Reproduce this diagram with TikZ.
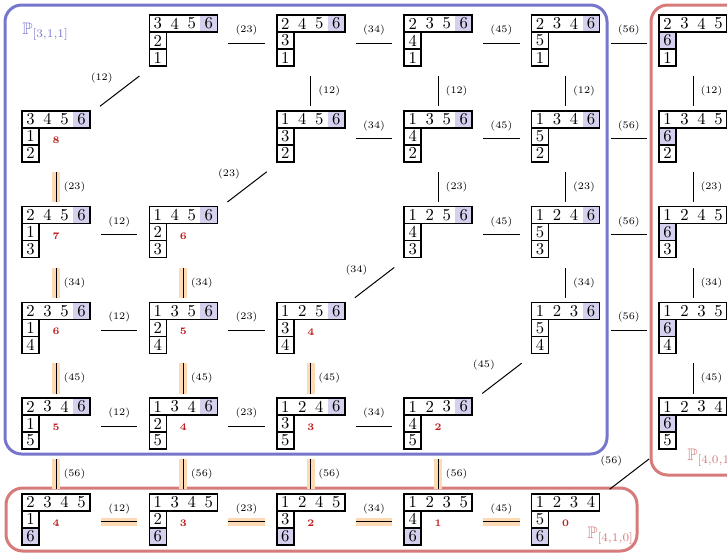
\documentclass[tikz,border=0pt]{standalone}
\usepackage{amssymb}
\definecolor{bfr}{RGB}{118,118,204}
\definecolor{rfr}{RGB}{214,122,122}
\definecolor{shd}{RGB}{212,208,238}
\definecolor{peach}{RGB}{253,218,180}
\definecolor{rnum}{RGB}{192,28,28}
\tikzset{
  x=0.6pt, y=-0.6pt,
  tabbox/.style={draw=none, inner sep=0pt, outer sep=0pt, minimum width=40.8pt, minimum height=30.6pt, anchor=north west},
  tabline/.style={line width=0.9pt},
  digit/.style={inner sep=0pt, font=\normalsize},
  edge/.style={line width=0.6pt},
  hledge/.style={line width=0.6pt, preaction={draw=peach, line width=4.8pt}},
  lab/.style={font=\fontsize{6}{7}\selectfont, inner sep=0pt},
  numlab/.style={font=\fontsize{6}{7}\selectfont\bfseries, text=rnum, inner sep=0pt},
  frameb/.style={draw=bfr, line width=1.8pt, rounded corners=10pt},
  framer/.style={draw=rfr, line width=1.8pt, rounded corners=10pt},
}
% name, x, y, top digits, cell2, cell3, shade mode, number
\newcommand\yt[8]{%
  \node[tabbox] (#1) at (#2,#3) {};
  \ifcase#7
    \fill[shd] ({#2+51},{#3}) rectangle ({#2+68},{#3+17});
  \or
    \fill[shd] ({#2},{#3+17}) rectangle ({#2+17},{#3+34});
  \or
    \fill[shd] ({#2},{#3+34}) rectangle ({#2+17},{#3+51});
  \fi
  \foreach \d [count=\k from 0] in {#4} \node[digit] at ({#2+8.5+17*\k},{#3+8.5}) {\d};
  \node[digit] at ({#2+8.5},{#3+25.5}) {#5};
  \node[digit] at ({#2+8.5},{#3+42.5}) {#6};
  \draw[tabline] (#2,#3) rectangle ({#2+68},{#3+17});
  \draw[tabline] (#2,{#3+17}) rectangle ({#2+17},{#3+34});
  \draw[tabline] (#2,{#3+34}) rectangle ({#2+17},{#3+51});
  \node[numlab] at ({#2+34},{#3+29.5}) {#8};
}
\newcommand\he[4][edge]{\draw[#1] ([shift={(11,2.5)}]#2.east) -- node[lab, yshift=7.8pt]{(#4)} ([shift={(-12,2.5)}]#3.west);}
\newcommand\ve[4][edge]{\draw[#1] ([shift={(0,10)}]#2.south) -- node[lab, anchor=west, xshift=4.2pt]{(#4)} ([shift={(0,-4.5)}]#3.north);}
\newcommand\de[3]{\draw[edge] ([shift={(10,-4.5)}]#1.north east) -- node[lab, xshift=-10.8pt, yshift=7.8pt]{(#3)} ([shift={(-10,10)}]#2.south west);}
\begin{document}
\begin{tikzpicture}
\useasboundingbox (0,0) rectangle (727,552);
\clip (0,0) rectangle (727,552);
% frames
\draw[frameb] (5,5) rectangle (607,454);
\draw[framer] (6,488) rectangle (637,551);
\draw[framer] (651,5) rectangle (800,475);
\node[anchor=base west, text=bfr, inner sep=0pt] (lb) at (22,34.5) {$\mathbb{P}_{[3,1,1]}$};
\node[anchor=base west, text=rfr, inner sep=0pt] (lr) at (687,460) {$\mathbb{P}_{[4,0,1]}$};
\node[anchor=base west, text=rfr, inner sep=0pt] (lbt) at (587,538.5) {$\mathbb{P}_{[4,1,0]}$};
% row 0
\yt{r0c1}{149.4}{15}{3,4,5,6}{2}{1}{0}{}
\yt{r0c2}{276.8}{15}{2,4,5,6}{3}{1}{0}{}
\yt{r0c3}{404.2}{15}{2,3,5,6}{4}{1}{0}{}
\yt{r0c4}{531.6}{15}{2,3,4,6}{5}{1}{0}{}
\yt{r0c5}{659}{15}{2,3,4,5}{6}{1}{1}{}
% row 1
\yt{r1c0}{22}{110.75}{3,4,5,6}{1}{2}{0}{8}
\yt{r1c2}{276.8}{110.75}{1,4,5,6}{3}{2}{0}{}
\yt{r1c3}{404.2}{110.75}{1,3,5,6}{4}{2}{0}{}
\yt{r1c4}{531.6}{110.75}{1,3,4,6}{5}{2}{0}{}
\yt{r1c5}{659}{110.75}{1,3,4,5}{6}{2}{1}{}
% row 2
\yt{r2c0}{22}{206.5}{2,4,5,6}{1}{3}{0}{7}
\yt{r2c1}{149.4}{206.5}{1,4,5,6}{2}{3}{0}{6}
\yt{r2c3}{404.2}{206.5}{1,2,5,6}{4}{3}{0}{}
\yt{r2c4}{531.6}{206.5}{1,2,4,6}{5}{3}{0}{}
\yt{r2c5}{659}{206.5}{1,2,4,5}{6}{3}{1}{}
% row 3
\yt{r3c0}{22}{302.25}{2,3,5,6}{1}{4}{0}{6}
\yt{r3c1}{149.4}{302.25}{1,3,5,6}{2}{4}{0}{5}
\yt{r3c2}{276.8}{302.25}{1,2,5,6}{3}{4}{0}{4}
\yt{r3c4}{531.6}{302.25}{1,2,3,6}{5}{4}{0}{}
\yt{r3c5}{659}{302.25}{1,2,3,5}{6}{4}{1}{}
% row 4
\yt{r4c0}{22}{398}{2,3,4,6}{1}{5}{0}{5}
\yt{r4c1}{149.4}{398}{1,3,4,6}{2}{5}{0}{4}
\yt{r4c2}{276.8}{398}{1,2,4,6}{3}{5}{0}{3}
\yt{r4c3}{404.2}{398}{1,2,3,6}{4}{5}{0}{2}
\yt{r4c5}{659}{398}{1,2,3,4}{6}{5}{1}{}
% row 5
\yt{r5c0}{22}{493.75}{2,3,4,5}{1}{6}{2}{4}
\yt{r5c1}{149.4}{493.75}{1,3,4,5}{2}{6}{2}{3}
\yt{r5c2}{276.8}{493.75}{1,2,4,5}{3}{6}{2}{2}
\yt{r5c3}{404.2}{493.75}{1,2,3,5}{4}{6}{2}{1}
\yt{r5c4}{531.6}{493.75}{1,2,3,4}{5}{6}{2}{0}
% horizontal edges
\he{r0c1}{r0c2}{23}
\he{r0c2}{r0c3}{34}
\he{r0c3}{r0c4}{45}
\he{r0c4}{r0c5}{56}
\he{r1c2}{r1c3}{34}
\he{r1c3}{r1c4}{45}
\he{r1c4}{r1c5}{56}
\he{r2c0}{r2c1}{12}
\he{r2c3}{r2c4}{45}
\he{r2c4}{r2c5}{56}
\he{r3c0}{r3c1}{12}
\he{r3c1}{r3c2}{23}
\he{r3c4}{r3c5}{56}
\he{r4c0}{r4c1}{12}
\he{r4c1}{r4c2}{23}
\he{r4c2}{r4c3}{34}
\he[hledge]{r5c0}{r5c1}{12}
\he[hledge]{r5c1}{r5c2}{23}
\he[hledge]{r5c2}{r5c3}{34}
\he[hledge]{r5c3}{r5c4}{45}
% vertical edges
\ve{r0c2}{r1c2}{12}
\ve{r0c3}{r1c3}{12}
\ve{r0c4}{r1c4}{12}
\ve{r0c5}{r1c5}{12}
\ve{r1c3}{r2c3}{23}
\ve{r1c4}{r2c4}{23}
\ve{r1c5}{r2c5}{23}
\ve{r2c4}{r3c4}{34}
\ve{r2c5}{r3c5}{34}
\ve{r3c5}{r4c5}{45}
\ve[hledge]{r1c0}{r2c0}{23}
\ve[hledge]{r2c0}{r3c0}{34}
\ve[hledge]{r3c0}{r4c0}{45}
\ve[hledge]{r4c0}{r5c0}{56}
\ve[hledge]{r2c1}{r3c1}{34}
\ve[hledge]{r3c1}{r4c1}{45}
\ve[hledge]{r4c1}{r5c1}{56}
\ve[hledge]{r3c2}{r4c2}{45}
\ve[hledge]{r4c2}{r5c2}{56}
\ve[hledge]{r4c3}{r5c3}{56}
% diagonal edges
\de{r1c0}{r0c1}{12}
\de{r2c1}{r1c2}{23}
\de{r3c2}{r2c3}{34}
\de{r4c3}{r3c4}{45}
\de{r5c4}{r4c5}{56}
\end{tikzpicture}
\end{document}
